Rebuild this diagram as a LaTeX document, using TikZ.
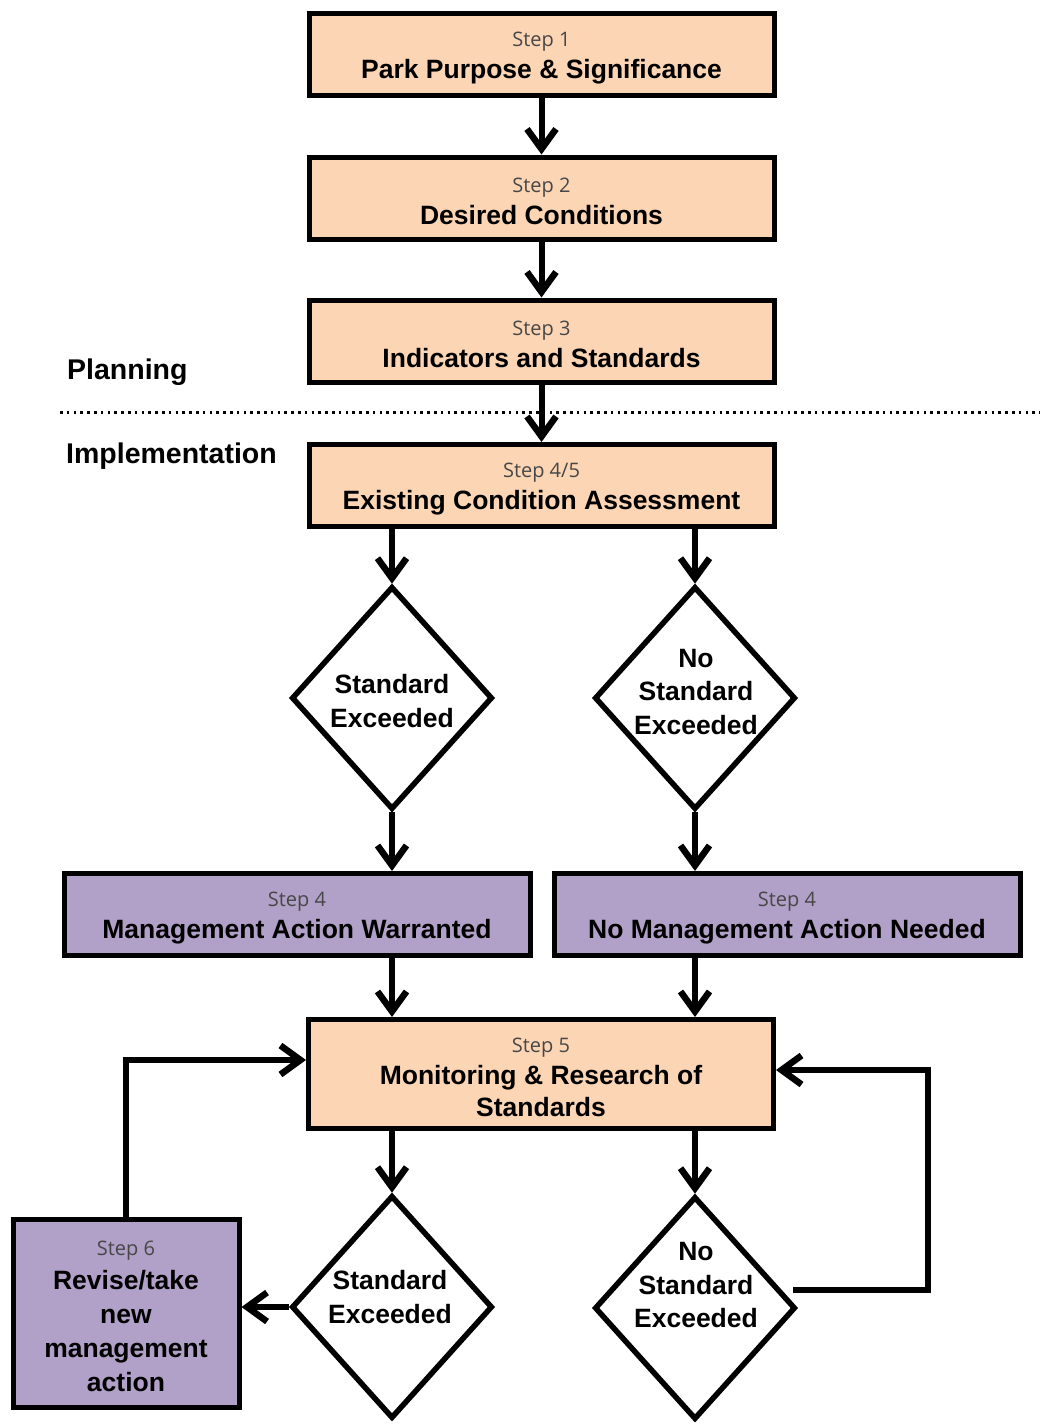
\documentclass[tikz,border=0pt]{standalone}
\usepackage{fontspec}
\setmainfont{Liberation Sans}
\newfontfamily\stepfont{Open Sans}
\usetikzlibrary{arrows.meta,shapes.geometric}
\definecolor{peach}{RGB}{252,213,181}
\definecolor{lav}{RGB}{177,160,199}
\newcommand{\stp}[1]{{\rule{0pt}{21pt}\stepfont\mdseries\fontsize{20}{33}\selectfont\color{black!72}#1}}
\begin{document}
\begin{tikzpicture}[x=1pt,y=-1pt,
  box/.style={draw, line width=5pt, rectangle, minimum width=465pt, minimum height=82pt, inner sep=0pt, align=center, font=\bfseries\fontsize{26.5}{32}\selectfont},
  peachbox/.style={box, fill=peach},
  lavbox/.style={box, fill=lav},
  dec/.style={draw, line width=5.5pt, diamond, minimum width=201pt, minimum height=223pt, inner sep=0pt, fill=white},
  dtext/.style={align=center, font=\bfseries\fontsize{26.5}{33.5}\selectfont, inner sep=0pt},
  lab/.style={font=\bfseries\fontsize{28.5}{34}\selectfont, inner sep=0pt, anchor=west},
  conn/.style={line width=6pt, -{Straight Barb[length=20pt,width=29pt,line width=6.5pt]}},
  dots/.style={line width=3pt, dash pattern=on 2.5pt off 4.3pt},
]
\useasboundingbox (0,0) rectangle (1040,1424);
\fill[white] (0,0) rectangle (1040,1424);

% divider
\coordinate (dl) at (60,412);
\coordinate (dr) at (1040,412);
\draw[dots] (dl) -- (dr);

\node[lab] (plan) at (67,372) {Planning};
\node[lab] (impl) at (66,456) {Implementation};

% boxes
\node[peachbox] (s1) at (541.5,54.5) {\stp{Step 1}\\Park Purpose \& Significance};
\node[peachbox] (s2) at (541.5,198) {\stp{Step 2}\\Desired Conditions};
\node[peachbox] (s3) at (541.5,341) {\stp{Step 3}\\Indicators and Standards};
\node[peachbox] (s45) at (541.5,485.5) {\stp{Step 4/5}\\Existing Condition Assessment};

\node[dec] (d1) at (392,698) {};
\node[dec] (d2) at (695,698) {};
\node[dtext] (t1) at (392,701) {Standard\\Exceeded};
\node[dtext] (t2) at (696,692) {No\\Standard\\Exceeded};

\node[lavbox, minimum width=466pt] (m1) at (297,914.5) {\stp{Step 4}\\Management Action Warranted};
\node[lavbox, minimum width=466pt] (m2) at (787,914.5) {\stp{Step 4}\\No Management Action Needed};

\node[peachbox, minimum height=109pt] (s5) at (541,1074) {\stp{Step 5}\\Monitoring \& Research of\\Standards};

\node[dec] (d3) at (392,1307) {};
\node[dec] (d4) at (695,1308) {};
\node[dtext] (t3) at (390,1297) {Standard\\Exceeded};
\node[dtext] (t4) at (696,1285) {No\\Standard\\Exceeded};

\node[lavbox, minimum width=226pt, minimum height=188pt, font=\bfseries\fontsize{26.5}{34}\selectfont] (s6) at (126,1313.5) {\stp{Step 6}\\Revise/take\\new\\management\\action};

% connectors
\draw[conn] (s1) -- (s2);
\draw[conn] (s2) -- (s3);
\draw[conn] (s3) -- (s45);
\draw[conn] (s45.south -| d1) -- (d1.north);
\draw[conn] (s45.south -| d2) -- (d2.north);
\draw[conn] (d1.south) -- (m1.north -| d1);
\draw[conn] (d2.south) -- (m2.north -| d2);
\draw[conn] (m1.south -| d1) -- (s5.north -| d1);
\draw[conn] (m2.south -| d2) -- (s5.north -| d2);
\draw[conn] (s5.south -| d3) -- (d3.north);
\draw[conn] (s5.south -| d4) -- (d4.north);
\draw[conn] (d3.west) -- (s6.east |- d3.west);
\draw[conn] (s6.north) |- ([yshift=14pt]s5.west);
\coordinate (r0) at (793,1290);
\draw[conn] (r0) -- (928,1290) |- ([yshift=4pt]s5.east);
\end{tikzpicture}
\end{document}
